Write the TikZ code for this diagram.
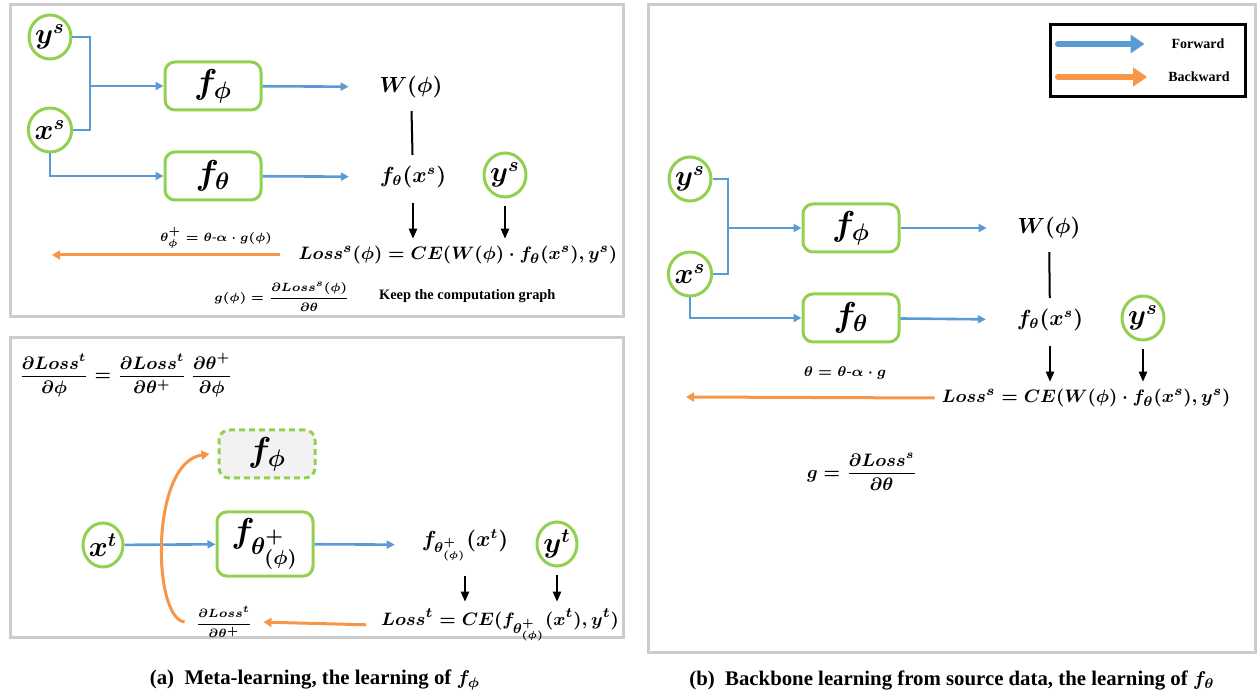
\documentclass[tikz,border=0pt]{standalone}
\usepackage{amsmath}
\usepackage{fontspec}
\setmainfont{Liberation Serif}
\usetikzlibrary{arrows.meta,shapes.geometric}
\definecolor{fwdblue}{HTML}{5B9BD5}
\definecolor{bwdorange}{HTML}{F79646}
\definecolor{boxgreen}{HTML}{92D050}
\definecolor{framegray}{HTML}{CCCCCC}
\tikzset{
  var/.style={draw=boxgreen, ellipse, line width=1.5pt, minimum width=20pt, minimum height=22pt, inner sep=0pt, font=\Large},
  net/.style={draw=boxgreen, rounded corners=5pt, line width=1.5pt, minimum width=48pt, minimum height=24pt, font=\LARGE},
  fwd/.style={draw=fwdblue, line width=1.3pt, -{Triangle[length=4pt,width=4pt]}},
  bwd/.style={draw=bwdorange, line width=1.5pt, -{Triangle[length=4pt,width=4.5pt]}},
  blk/.style={draw, line width=1pt, -{Triangle[length=5pt,width=4pt]}},
  panel/.style={draw=framegray, line width=1.5pt},
  eq/.style={font=\fontsize{10.5}{12}\selectfont},
  loss/.style={font=\fontsize{9.5}{11}\selectfont},
  tiny eq/.style={font=\fontsize{6.5}{8}\selectfont},
}
\begin{document}
\begin{tikzpicture}[x=0.5pt,y=-0.5pt]
\boldmath
\useasboundingbox (0,0) rectangle (1258,694);
% panels
\path[panel] (10,5) rectangle (623,317);
\path[panel] (10,338) rectangle (623,637);
\path[panel] (648,5) rectangle (1255,652);
% (a) top: source step
\begin{scope}
\node[var] (1) at (50,37) {$y^s$};
\node[var] (2) at (50,130) {$x^s$};
\coordinate (3) at (90,86);
\node[net] (4) at (213,86) {$f_{\phi}$};
\node[net] (5) at (213,176) {$f_{\theta}$};
\node[eq] (6) at (411,87) {$W(\phi)$};
\node[eq] (7) at (413,177) {$f_{\theta}(x^s)$};
\node[var] (8) at (505,175) {$y^s$};
\node[loss] (9) at (458,255) {$Loss^s(\phi) = CE(W(\phi)\cdot f_{\theta}(x^s), y^s)$};
\coordinate (10) at (52,255);
\node[tiny eq] (11) at (216,238) {$\theta^+_{\phi} = \theta\text{-}\alpha\cdot g(\phi)$};
\node[tiny eq] (12) at (282,297) {$g(\phi) = \dfrac{\partial Loss^s(\phi)}{\partial\theta}$};
\node[font=\fontsize{7.2}{9}\selectfont\bfseries, anchor=west] (13) at (372,296) {Keep the computation graph};
\path[draw=fwdblue,line width=1.3pt] (1.east) -| (3) |- (2.east);
\path[fwd] (3) -- (4);
\path[fwd] (2.south) |- (5.west);
\path[fwd,shorten >=12pt] (4) -- (6);
\path[fwd,shorten >=12pt] (5) -- (7);
\path[draw,line width=1pt,shorten <=3pt,shorten >=2pt] (6) -- (7);
\path[blk,shorten <=4pt] (7) -- (7 |- 9.north);
\path[blk,shorten <=4pt] (8) -- (8 |- 9.north);
\path[bwd,shorten <=6pt] (9.west) -- (10);
\end{scope}
% (a) bottom: target step
\begin{scope}
\node[font=\fontsize{9.2}{11}\selectfont] (1) at (126,375) {$\displaystyle\frac{\partial Loss^t}{\partial\phi} = \frac{\partial Loss^t}{\partial\theta^+}\,\frac{\partial\theta^+}{\partial\phi}$};
\node[net, dash pattern=on 3pt off 2pt, fill=gray!10] (2) at (267,454) {$f_{\phi}$};
\node[var] (3) at (103,545) {$x^t$};
\node[net] (4) at (265,544) {$f_{\theta^+_{(\phi)}}$};
\node[eq] (5) at (465,545) {$f_{\theta^+_{(\phi)}}(x^t)$};
\node[var] (6) at (557,544) {$y^t$};
\node[loss] (7) at (500,625) {$Loss^t = CE(f_{\theta^+_{(\phi)}}(x^t), y^t)$};
\node[tiny eq] (8) at (224,622) {$\dfrac{\partial Loss^t}{\partial\theta^+}$};
\path[fwd] (3) -- (4);
\path[fwd,shorten >=10pt] (4) -- (5);
\path[blk,shorten <=4pt] (5) -- (5 |- 7.north);
\path[blk,shorten <=4pt] (6) -- (6 |- 7.north);
\path[bwd,shorten <=4pt,shorten >=2pt] (7.west) -- (8.east);
\path[bwd] ([xshift=-2pt]8.west) .. controls (152,618) and (150,462) .. ([xshift=-4pt]2.west);
\end{scope}
% (b) backbone step
\begin{scope}[shift={(640,142)}]
\node[var] (1) at (50,37) {$y^s$};
\node[var] (2) at (50,132) {$x^s$};
\coordinate (3) at (88,86);
\node[net] (4) at (211,86) {$f_{\phi}$};
\node[net] (5) at (211,176) {$f_{\theta}$};
\node[eq] (6) at (409,86) {$W(\phi)$};
\node[eq] (7) at (410,178) {$f_{\theta}(x^s)$};
\node[var] (8) at (503,176) {$y^s$};
\node[loss] (9) at (446,256) {$Loss^s = CE(W(\phi)\cdot f_{\theta}(x^s), y^s)$};
\coordinate (10) at (46,255);
\node[font=\fontsize{7.5}{9}\selectfont] (11) at (205,231) {$\theta = \theta\text{-}\alpha\cdot g$};
\node[font=\fontsize{9}{11}\selectfont] (12) at (222,330) {$g = \dfrac{\partial Loss^s}{\partial\theta}$};
\path[draw=fwdblue,line width=1.3pt] (1.east) -| (3) |- (2.east);
\path[fwd] (3) -- (4);
\path[fwd] (2.south) |- (5.west);
\path[fwd,shorten >=12pt] (4) -- (6);
\path[fwd,shorten >=12pt] (5) -- (7);
\path[draw,line width=1pt,shorten <=3pt,shorten >=2pt] (6) -- (7);
\path[blk,shorten <=4pt] (7) -- (7 |- 9.north);
\path[blk,shorten <=4pt] (8) -- (8 |- 9.north);
\path[bwd] (9.west) -- (10);
\end{scope}
% legend
\path[draw,line width=1.5pt] (1050,25) rectangle (1245,97);
\node[font=\scriptsize\bfseries] (fw) at (1198,44) {Forward};
\node[font=\scriptsize\bfseries] (bw) at (1199,77) {Backward};
\coordinate (l1) at (1058,44);
\coordinate (l2) at (1058,77);
\path[draw=fwdblue,line width=3pt,line cap=round,-{Triangle[length=7pt,width=9pt]},shorten >=10pt] (l1) -- (fw.west);
\path[draw=bwdorange,line width=3pt,line cap=round,-{Triangle[length=7pt,width=9pt]},shorten >=7pt] (l2) -- (bw.west);
% captions
\node[font=\fontsize{10.4}{12}\selectfont\bfseries] (capa) at (315,680) {(a)\ \ Meta-learning, the learning of $f_{\phi}$};
\node[font=\fontsize{10.4}{12}\selectfont\bfseries] (capb) at (952,680) {(b)\ \ Backbone learning from source data, the learning of $f_{\theta}$};
\end{tikzpicture}
\end{document}
